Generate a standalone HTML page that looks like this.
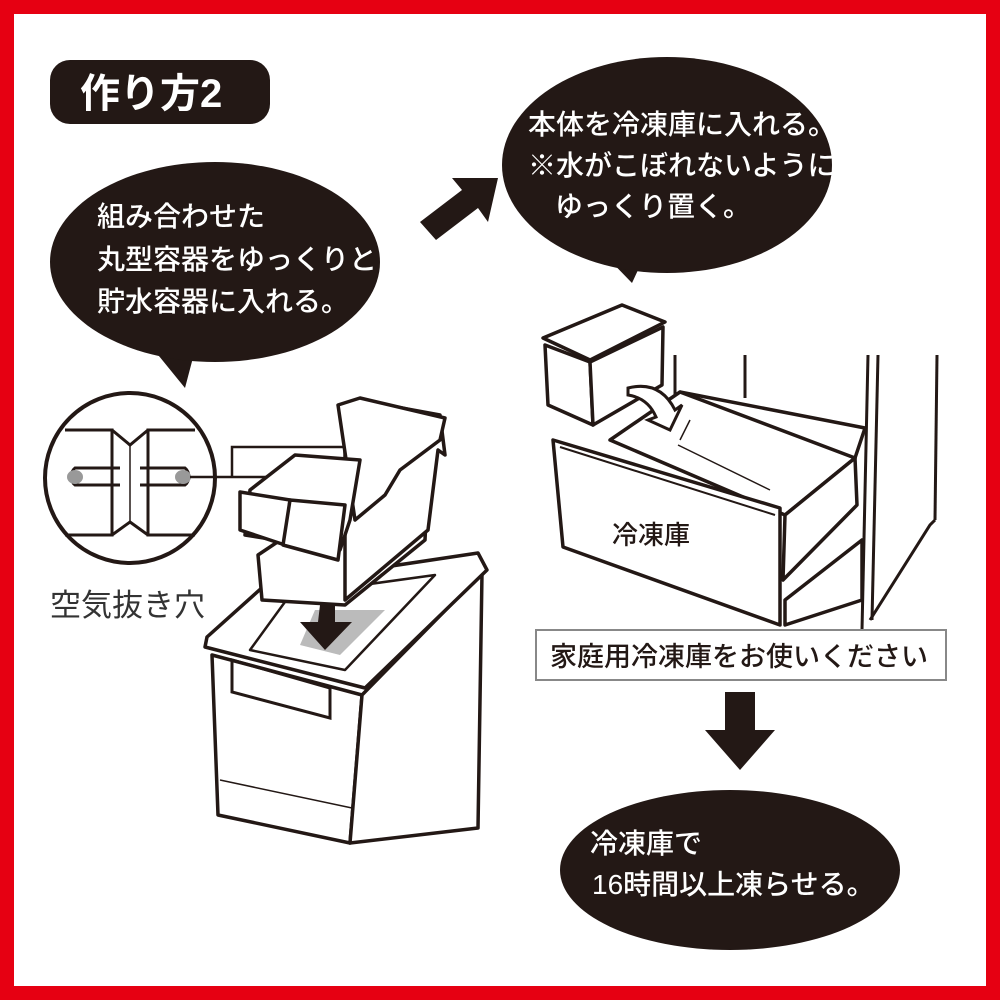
<!DOCTYPE html>
<html><head><meta charset="utf-8"><style>
html,body{margin:0;padding:0;background:#fff}
svg text{font-family:"Liberation Sans","Noto Sans CJK JP",sans-serif}
</style></head><body>
<svg width="1000" height="1000" viewBox="0 0 1000 1000" xmlns="http://www.w3.org/2000/svg">
<rect x="0" y="0" width="1000" height="1000" fill="#e60012"/>
<rect x="14" y="14" width="972" height="972" fill="#fff"/>

<!-- title -->
<rect x="50" y="60" width="220" height="64" rx="20" fill="#231815"/>
<text x="80" y="107" font-size="40" font-weight="bold" fill="#fff">作り方2</text>

<!-- bubble 1 -->
<path d="M150 345 L185 388 L195 350 Z" fill="#231815"/>
<ellipse cx="215" cy="262" rx="165" ry="100" fill="#231815"/>
<g font-size="28" font-weight="500" fill="#fff">
<text x="97" y="226">組み合わせた</text>
<text x="97" y="269">丸型容器をゆっくりと</text>
<text x="97" y="311">貯水容器に入れる。</text>
</g>

<!-- arrow up-right -->
<path d="M420 222 L462 190 L452 178 L498 178 L488 222 L478 208 L436 240 Z" fill="#231815"/>

<!-- bubble 2 -->
<path d="M600 250 L632 283 L645 255 Z" fill="#231815"/>
<ellipse cx="667" cy="165" rx="165" ry="108" fill="#231815"/>
<g font-size="28" font-weight="500" fill="#fff">
<text x="528" y="134">本体を冷凍庫に入れる。</text>
<text x="528" y="175">※水がこぼれないように</text>
<text x="555" y="216">ゆっくり置く。</text>
</g>

<!-- detail circle -->
<circle cx="130" cy="478" r="85" fill="#fff" stroke="#231815" stroke-width="4"/>
<g fill="none" stroke="#231815" stroke-width="3">
<path d="M65 430 L112 430 L112 535 L65 535"/>
<path d="M195 430 L148 430 L148 535 L195 535"/>
<path d="M112 430 L130 445 L148 430"/>
<path d="M112 535 L130 522 L148 535"/>
<line x1="130" y1="445" x2="130" y2="522" stroke-width="1.5"/>
<path d="M120 468 L75 468 A8 10 0 0 0 75 485 L120 485"/>
<path d="M140 468 L185 468 A8 10 0 0 1 185 485 L140 485"/>
</g>
<ellipse cx="75" cy="477" rx="8" ry="7" fill="#999"/>
<ellipse cx="183" cy="477" rx="8" ry="7" fill="#999"/>
<g fill="none" stroke="#231815" stroke-width="2.5">
<path d="M190 477 L320 477"/>
<path d="M232 477 L232 447 L358 447"/>
</g>
<text x="50" y="616" font-size="31" fill="#333">空気抜き穴</text>

<!-- big container -->
<g fill="#fff" stroke="#231815" stroke-width="3.5" stroke-linejoin="round">
<path d="M212 655 L362 695 L350 843 L218 815 Z"/>
<path d="M362 695 L482 573 L478 828 L350 843 Z"/>
<path d="M207 637 L265 585 L478 553 L487 570 L365 688 L205 647 Z"/>
<path d="M250 650 L290 595 L435 575 L345 670 Z" stroke-width="2.5"/>
</g>
<path d="M315 610 L385 610 L340 655 L300 645 Z" fill="#bbb"/>
<path d="M320 605 L335 605 L335 622 L352 622 L325 650 L300 622 L318 622 Z" fill="#231815"/>
<path d="M232 660 L330 688 L330 718 L232 692 Z" fill="none" stroke="#231815" stroke-width="3"/>
<line x1="220" y1="780" x2="352" y2="808" stroke="#231815" stroke-width="1.5"/>

<!-- inner container -->
<g fill="#fff" stroke="#231815" stroke-width="3.5" stroke-linejoin="round">
<path d="M258 555 L262 600 L345 605 L425 540 L430 440 Z"/>
<path d="M345 420 L358 400 L440 415 L445 455 L438 450 L428 530 L345 600 Z"/>
<path d="M338 405 L360 398 L445 418 L440 440 L400 470 L385 495 L355 520 Z"/>
<path d="M250 490 L295 455 L360 460 L350 520 L340 550 L245 535 Z"/>
<path d="M240 492 L290 500 L285 545 L240 530 Z"/>
<path d="M290 500 L345 505 L338 560 L283 545 Z"/>
</g>

<!-- freezer cabinet -->
<g fill="none" stroke="#231815" stroke-width="3">
<line x1="675" y1="355" x2="675" y2="398"/>
<line x1="745" y1="355" x2="745" y2="398"/>
<line x1="868" y1="355" x2="862" y2="630"/>
<line x1="878" y1="355" x2="872" y2="620"/>
<line x1="937" y1="355" x2="935" y2="520"/>
<path d="M935 520 L930 525 L870 620"/>
</g>
<g fill="#fff" stroke="#231815" stroke-width="3.5" stroke-linejoin="round">
<path d="M680 392 L865 428 L855 458 L690 420 Z"/>
<path d="M610 440 L680 392 L855 458 L785 515 Z"/>
<path d="M785 515 L855 458 L857 505 L783 580 Z"/>
<path d="M785 600 L862 540 L862 600 L785 625 Z"/>
<path d="M553 440 L780 508 L780 625 L563 547 Z"/>
</g>
<path d="M680 440 L690 420 M678 445 L770 490" stroke="#231815" stroke-width="1.5" fill="none"/>
<path d="M560 447 L775 515" stroke="#231815" stroke-width="2" fill="none"/>
<text x="612" y="544" font-size="26" font-weight="500" fill="#231815">冷凍庫</text>

<!-- small container -->
<g fill="#fff" stroke="#231815" stroke-width="3.5" stroke-linejoin="round">
<path d="M545 345 L590 362 L593 425 L548 405 Z"/>
<path d="M590 362 L663 327 L662 385 L593 425 Z"/>
<path d="M543 338 L622 305 L665 322 L590 360 Z"/>
</g>
<path d="M628 388 Q660 380 675 410 L682 405 L670 430 L648 420 L656 417 Q648 398 628 395 Z" fill="#fff" stroke="#231815" stroke-width="3"/>

<!-- label box -->
<rect x="536" y="630" width="410" height="50" fill="#fff" stroke="#888" stroke-width="2"/>
<text x="550" y="666" font-size="27" font-weight="500" fill="#231815">家庭用冷凍庫をお使いください</text>

<!-- down arrow -->
<path d="M725 692 L755 692 L755 730 L775 730 L740 770 L705 730 L725 730 Z" fill="#231815"/>

<!-- bubble 3 -->
<ellipse cx="730" cy="870" rx="170" ry="80" fill="#231815"/>
<g font-size="28" font-weight="500" fill="#fff">
<text x="590" y="853">冷凍庫で</text>
<text x="592" y="894">16時間以上凍らせる。</text>
</g>
</svg>
</body></html>
